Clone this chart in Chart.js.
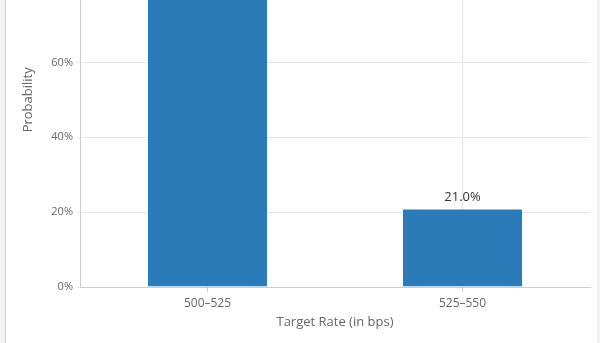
<!DOCTYPE html>
<html>
<head>
<meta charset="utf-8">
<script src="https://cdn.jsdelivr.net/npm/chart.js@4"></script>
<style>
  html, body { margin: 0; padding: 0; width: 600px; height: 343px; overflow: hidden; background: #f2f2f2; }
  #panel { position: absolute; left: 5px; top: 0; width: 591px; height: 343px; background: #fff; border-left: 1px solid #cfcfcf; overflow: hidden; }
  #wrap { position: absolute; left: 0; top: -98px; width: 591px; height: 441px; }
</style>
</head>
<body>
<div id="panel"><div id="wrap"><canvas id="c"></canvas></div></div>
<script>
const categories = ["500\u2013525", "525\u2013550"];
const probabilities = [79.0, 21.0];
const yTickValues = [0, 20, 40, 60, 80, 100];
const xAxisTitle = "Target Rate (in bps)";
const yAxisTitle = "Probability";

const FONT = "'Open Sans', 'DejaVu Sans', sans-serif";

const valueLabels = {
  id: 'valueLabels',
  afterDatasetsDraw(chart) {
    const ctx = chart.ctx;
    const meta = chart.getDatasetMeta(0);
    ctx.save();
    ctx.font = "13px " + FONT;
    ctx.fillStyle = '#333333';
    ctx.textAlign = 'center';
    ctx.textBaseline = 'middle';
    meta.data.forEach((bar, i) => {
      ctx.fillText(probabilities[i].toFixed(1) + '%', bar.x, bar.y - 11);
    });
    ctx.restore();
  }
};

new Chart(document.getElementById('c'), {
  type: 'bar',
  data: {
    labels: categories,
    datasets: [{
      data: probabilities,
      backgroundColor: '#2a7bb7',
      borderColor: 'rgba(255,255,255,0.55)',
      borderWidth: 1,
      borderRadius: 2,
      categoryPercentage: 1,
      barPercentage: 0.475
    }]
  },
  options: {
    responsive: true,
    maintainAspectRatio: false,
    animation: false,
    devicePixelRatio: 1,
    layout: { padding: { top: 10, right: 7, bottom: 0, left: 0 } },
    plugins: { legend: { display: false }, tooltip: { enabled: false } },
    scales: {
      x: {
        grid: { offset: false, color: '#e6e6e6', tickColor: '#cccccc', tickLength: 5 },
        border: { color: '#cccccc' },
        ticks: { color: '#666666', font: { family: FONT, size: 12 }, padding: 4 },
        title: { display: true, text: xAxisTitle, color: '#666666', font: { family: FONT, size: 13 }, padding: { top: 4, bottom: 13 } },
        afterFit(scale) { scale.height = 56; }
      },
      y: {
        min: 0, max: 100,
        afterBuildTicks(scale) { scale.ticks = yTickValues.map(v => ({ value: v })); },
        grid: { color: '#e6e6e6', tickLength: 3 },
        border: { color: '#cccccc' },
        ticks: { color: '#666666', font: { family: FONT, size: 11 }, padding: 4, callback: v => v + '%' },
        title: { display: true, text: yAxisTitle, color: '#666666', font: { family: FONT, size: 13 }, padding: { top: 14, bottom: 4 } },
        afterFit(scale) { scale.width = 74; }
      }
    }
  },
  plugins: [valueLabels]
});
</script>
</body>
</html>
